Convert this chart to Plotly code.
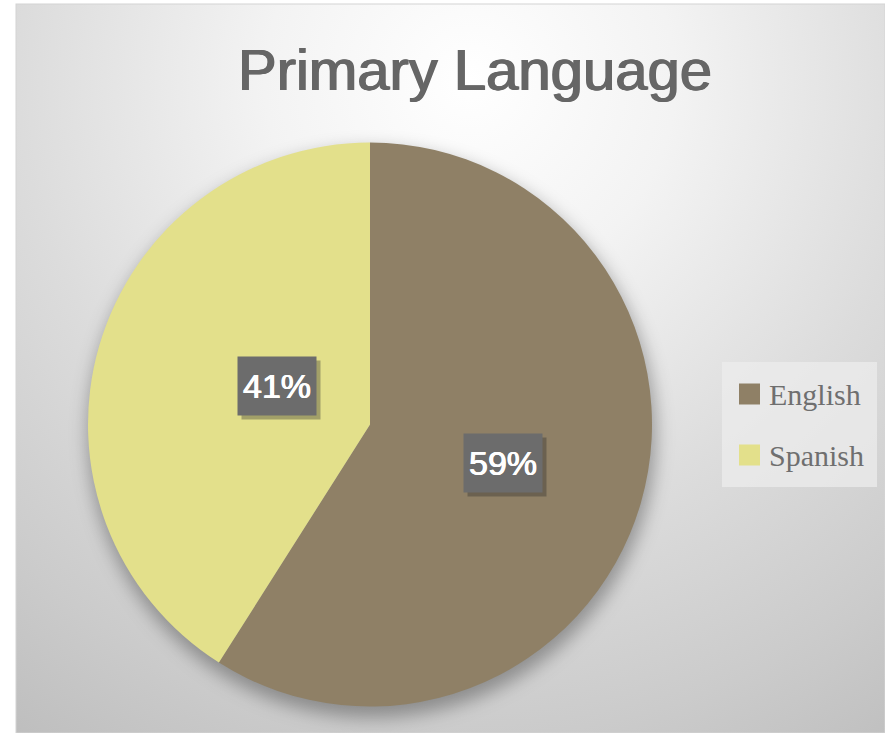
import base64, math
import plotly.graph_objects as go

# ---- data ----
labels = ["English", "Spanish"]
values = [59, 41]
colors = ["#8F8066", "#E3E08B"]
title_text = "Primary Language"

W, H = 885, 733
# pie geometry (pixels)
cx, cy, R = 370, 424.5, 282

def px(x):
    return x / W

def py(y):
    return 1 - y / H

# ---- background (radial gradient + pie shadow) ----
svg = f'''<svg xmlns="http://www.w3.org/2000/svg" width="{W}" height="{H}" viewBox="0 0 {W} {H}">
<defs>
<radialGradient id="g" gradientUnits="userSpaceOnUse" cx="470" cy="80" r="820">
<stop offset="0" stop-color="#ffffff"/>
<stop offset="0.25" stop-color="#f3f3f3"/>
<stop offset="0.55" stop-color="#dcdcdc"/>
<stop offset="0.8" stop-color="#cbcbcb"/>
<stop offset="1" stop-color="#bcbcbc"/>
</radialGradient>
<filter id="b" x="-20%" y="-20%" width="140%" height="140%"><feGaussianBlur stdDeviation="9"/></filter>
</defs>
<rect x="0" y="0" width="{W}" height="{H}" fill="#ffffff"/>
<rect x="16" y="4" width="{W-16}" height="{H-4}" fill="url(#g)" stroke="#d4d4d4" stroke-width="1"/>
<circle cx="{cx+2}" cy="{cy+9}" r="{R+2}" fill="rgba(0,0,0,0.32)" filter="url(#b)"/>
</svg>'''
src = "data:image/svg+xml;base64," + base64.b64encode(svg.encode()).decode()

fig = go.Figure()
fig.add_trace(go.Pie(
    labels=labels, values=values, sort=False, direction="clockwise", rotation=0,
    marker=dict(colors=colors, line=dict(width=0)),
    textinfo="none", hoverinfo="label+percent", showlegend=False,
    domain=dict(x=[px(cx - R), px(cx + R)], y=[py(cy + R), py(cy - R)]),
))

annotations = []
shapes = []

# data labels in boxes, positioned at slice mid-angles
total = sum(values)
start = 0.0
for lab, v in zip(labels, values):
    frac = v / total
    mid = (start + frac / 2) * 2 * math.pi  # clockwise from 12 o'clock
    start += frac
    lx = cx + 0.49 * R * math.sin(mid)
    ly = cy - 0.49 * R * math.cos(mid)
    txt = f"{round(frac * 100)}%"
    # shadow
    annotations.append(dict(x=px(lx), y=py(ly), xref="paper", yref="paper", text=" ",
                            showarrow=False, width=78, height=58, borderpad=0,
                            bgcolor="rgba(40,40,40,0.35)", xshift=4, yshift=-4,
                            font=dict(size=33)))
    annotations.append(dict(x=px(lx), y=py(ly), xref="paper", yref="paper", text=txt,
                            showarrow=False, width=78, height=58, borderpad=0,
                            bgcolor="#6c6c6c", align="center", valign="middle",
                            font=dict(family="Liberation Sans, Arial", size=34, color="#ffffff",
                                      shadow="0.5px 0 0 #ffffff, -0.5px 0 0 #ffffff")))

# custom legend
shapes.append(dict(type="rect", xref="paper", yref="paper", x0=px(722), x1=px(877),
                   y0=py(487), y1=py(362), fillcolor="rgba(236,236,236,0.75)",
                   line=dict(width=0), layer="above"))
for i, (lab, col) in enumerate(zip(labels, colors)):
    yc = 394 + 61 * i
    shapes.append(dict(type="rect", xref="paper", yref="paper", x0=px(739), x1=px(760),
                       y0=py(yc + 10.5), y1=py(yc - 10.5), fillcolor=col,
                       line=dict(width=0), layer="above"))
    annotations.append(dict(x=px(767), y=py(yc), xref="paper", yref="paper", text=lab,
                            showarrow=False, xanchor="left", yanchor="middle",
                            font=dict(family="Liberation Serif, Times New Roman", size=30,
                                      color="#6f6f6f")))

fig.update_layout(
    width=W, height=H,
    margin=dict(l=0, r=0, t=0, b=0),
    paper_bgcolor="#ffffff",
    title=dict(text=title_text, x=px(475), xanchor="center", y=py(70), yanchor="middle",
               font=dict(family="Liberation Sans, Arial", size=58, color="#666666",
                         shadow="0.8px 0 0 #666666, -0.8px 0 0 #666666")),
    images=[dict(source=src, xref="paper", yref="paper", x=0, y=1, sizex=1, sizey=1,
                 xanchor="left", yanchor="top", sizing="stretch", layer="below")],
    annotations=annotations,
    shapes=shapes,
    showlegend=False,
)

fig.write_html("out.html", config={"displayModeBar": False},
               post_script="document.body.style.margin='0';document.body.style.overflow='hidden';")
